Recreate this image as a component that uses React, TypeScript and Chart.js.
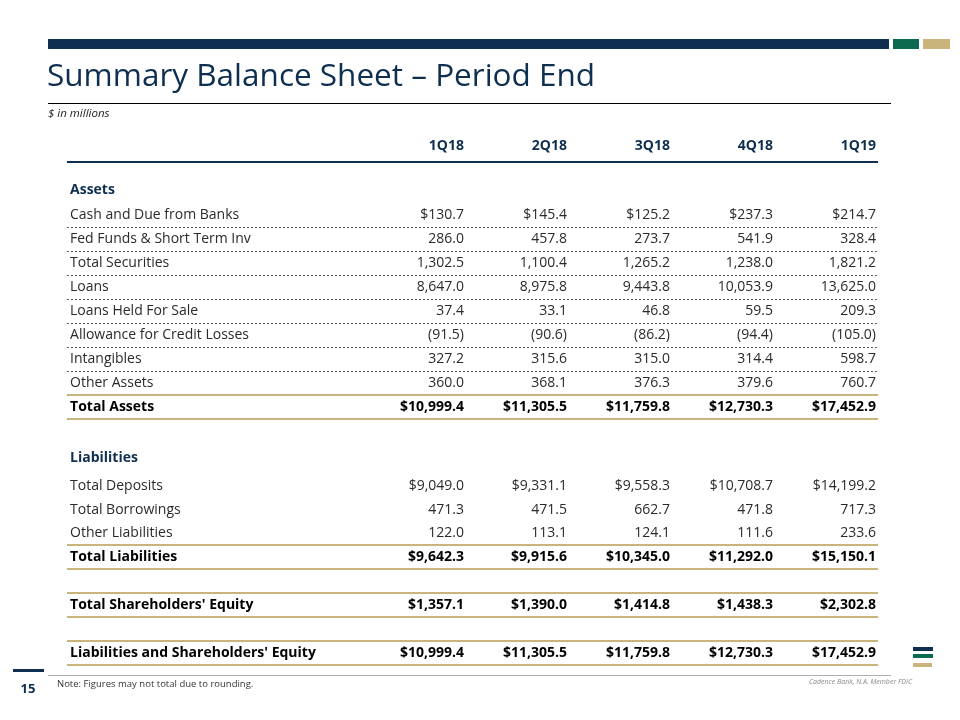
import React, { useEffect, useRef } from "react";
import { Chart, registerables } from "chart.js";

Chart.register(...registerables);

// ---------- data ----------
const quarters = ["1Q18", "2Q18", "3Q18", "4Q18", "1Q19"];

const assetItems = [
  "Cash and Due from Banks",
  "Fed Funds & Short Term Inv",
  "Total Securities",
  "Loans",
  "Loans Held For Sale",
  "Allowance for Credit Losses",
  "Intangibles",
  "Other Assets",
];
const totalAssetsLabel = "Total Assets";
const liabilityItems = ["Total Deposits", "Total Borrowings", "Other Liabilities"];
const totalLiabilitiesLabel = "Total Liabilities";
const equityLabel = "Total Shareholders' Equity";
const grandTotalLabel = "Liabilities and Shareholders' Equity";

// each quarter: 8 asset items, total assets, 3 liability items, total liabilities, equity, L&SE
const values1Q18 = [130.7, 286.0, 1302.5, 8647.0, 37.4, -91.5, 327.2, 360.0, 10999.4, 9049.0, 471.3, 122.0, 9642.3, 1357.1, 10999.4];
const values2Q18 = [145.4, 457.8, 1100.4, 8975.8, 33.1, -90.6, 315.6, 368.1, 11305.5, 9331.1, 471.5, 113.1, 9915.6, 1390.0, 11305.5];
const values3Q18 = [125.2, 273.7, 1265.2, 9443.8, 46.8, -86.2, 315.0, 376.3, 11759.8, 9558.3, 662.7, 124.1, 10345.0, 1414.8, 11759.8];
const values4Q18 = [237.3, 541.9, 1238.0, 10053.9, 59.5, -94.4, 314.4, 379.6, 12730.3, 10708.7, 471.8, 111.6, 11292.0, 1438.3, 12730.3];
const values1Q19 = [214.7, 328.4, 1821.2, 13625.0, 209.3, -105.0, 598.7, 760.7, 17452.9, 14199.2, 717.3, 233.6, 15150.1, 2302.8, 17452.9];

const seriesValues = [values1Q18, values2Q18, values3Q18, values4Q18, values1Q19];

const sectionLabels = ["Assets", "Liabilities"];

// ---------- layout (row slots on the y scale) ----------
const rowLabels = [...assetItems, totalAssetsLabel, ...liabilityItems, totalLiabilitiesLabel, equityLabel, grandTotalLabel];
const rowSlots = [2.9, 3.9, 4.9, 5.9, 6.9, 7.9, 8.9, 9.9, 10.9, 14.2, 15.2, 16.15, 17.15, 19.15, 21.15];
const rowBold = [false, false, false, false, false, false, false, false, true, false, false, false, true, true, true];
const rowDollar = [true, false, false, false, false, false, false, false, true, true, false, false, true, true, true];
const sectionSlots = [1.87, 13.05];
const labelCol = -3.825;

const FONT = '"Open Sans", "Noto Sans", sans-serif';
const NAVY = "#0e2f4f";
const GREEN = "#0b6a4f";
const GOLD = "#c9b47c";

function fmt(v: number, dollar: boolean): string {
  const s = Math.abs(v).toLocaleString("en-US", { minimumFractionDigits: 1, maximumFractionDigits: 1 });
  const body = (dollar ? "$" : "") + s;
  return v < 0 ? `(${body})` : body;
}

const tablePlugin = {
  id: "tablePlugin",
  afterDraw(chart: any) {
    const ctx: CanvasRenderingContext2D = chart.ctx;
    const xs = chart.scales.x;
    const ys = chart.scales.y;
    ctx.save();

    // slide decoration
    ctx.fillStyle = NAVY;
    ctx.fillRect(48, 39, 841, 10);
    ctx.fillStyle = GREEN;
    ctx.fillRect(893, 39, 26, 10);
    ctx.fillStyle = GOLD;
    ctx.fillRect(923, 39, 27, 10);

    ctx.fillStyle = NAVY;
    ctx.font = `31.5px ${FONT}`;
    ctx.textAlign = "left";
    ctx.textBaseline = "alphabetic";
    ctx.fillText("Summary Balance Sheet \u2013 Period End", 47, 86);

    ctx.fillStyle = "#000";
    ctx.fillRect(48, 103, 843, 1);

    ctx.fillStyle = "#222";
    ctx.font = `italic 11.5px ${FONT}`;
    ctx.fillText("$ in millions", 48, 117);

    // footer
    ctx.fillStyle = "#b0b0b0";
    ctx.fillRect(48, 675, 843, 1);
    ctx.fillStyle = NAVY;
    ctx.fillRect(13, 669, 31, 3);
    ctx.font = `bold 13px ${FONT}`;
    ctx.textAlign = "center";
    ctx.fillText("15", 28, 693);
    ctx.textAlign = "left";
    ctx.fillStyle = "#333";
    ctx.font = `9.5px ${FONT}`;
    ctx.fillText("Note: Figures may not total due to rounding.", 57, 687);
    ctx.fillStyle = "#8a8a8a";
    ctx.font = `italic 7px ${FONT}`;
    ctx.textAlign = "right";
    ctx.fillText("Cadence Bank, N.A. Member FDIC", 912, 684);
    // logo
    ctx.fillStyle = NAVY;
    ctx.fillRect(913, 647, 20, 4);
    ctx.fillStyle = GREEN;
    ctx.fillRect(913, 654, 20, 4);
    ctx.fillStyle = GOLD;
    ctx.fillRect(913, 663, 19, 4);

    // table rules
    const left = xs.getPixelForValue(labelCol - 0.03);
    const right = xs.getPixelForValue(4.02);
    ctx.fillStyle = NAVY;
    ctx.fillRect(left, Math.round(ys.getPixelForValue(0.7)) - 1, right - left, 2);

    // dotted lines between asset items
    ctx.strokeStyle = "#555";
    ctx.lineWidth = 1;
    ctx.setLineDash([2, 2]);
    for (let i = 0; i < assetItems.length - 1; i++) {
      const y = Math.round(ys.getPixelForValue(rowSlots[i] + 0.52)) + 0.5;
      ctx.beginPath();
      ctx.moveTo(left, y);
      ctx.lineTo(right, y);
      ctx.stroke();
    }
    ctx.setLineDash([]);

    // gold rules around totals
    ctx.fillStyle = GOLD;
    rowLabels.forEach((_, i) => {
      if (!rowBold[i]) return;
      const yTop = Math.round(ys.getPixelForValue(rowSlots[i] - 0.5));
      const yBot = Math.round(ys.getPixelForValue(rowSlots[i] + 0.52));
      ctx.fillRect(left, yTop - 1, right - left, 2);
      ctx.fillRect(left, yBot - 1, right - left, 2);
    });

    // header
    ctx.textBaseline = "middle";
    ctx.textAlign = "right";
    ctx.fillStyle = NAVY;
    ctx.font = `bold 14px ${FONT}`;
    quarters.forEach((q, qi) => {
      ctx.fillText(q, xs.getPixelForValue(qi), ys.getPixelForValue(0.05));
    });

    // section labels
    ctx.textAlign = "left";
    sectionLabels.forEach((s, si) => {
      ctx.fillText(s, xs.getPixelForValue(labelCol), ys.getPixelForValue(sectionSlots[si]));
    });

    // row labels (label dataset)
    const labelMeta = chart.getDatasetMeta(quarters.length);
    labelMeta.data.forEach((el: any, i: number) => {
      ctx.fillStyle = rowBold[i] ? "#000" : "#2a2a2a";
      ctx.font = `${rowBold[i] ? "bold " : ""}14px ${FONT}`;
      ctx.fillText(rowLabels[i], el.x, el.y);
    });

    // values
    ctx.textAlign = "right";
    quarters.forEach((_, qi) => {
      const meta = chart.getDatasetMeta(qi);
      meta.data.forEach((el: any, i: number) => {
        ctx.fillStyle = rowBold[i] ? "#000" : "#2a2a2a";
        ctx.font = `${rowBold[i] ? "bold " : ""}14px ${FONT}`;
        ctx.fillText(fmt(seriesValues[qi][i], rowDollar[i]), el.x, el.y);
      });
    });

    ctx.restore();
  },
};

export default function App() {
  const ref = useRef<HTMLCanvasElement | null>(null);
  useEffect(() => {
    if (!ref.current) return;
    const datasets: any[] = quarters.map((q, qi) => ({
      label: q,
      data: seriesValues[qi].map((_, i) => ({ x: qi, y: rowSlots[i] })),
      pointRadius: 0,
      showLine: false,
    }));
    datasets.push({
      label: "labels",
      data: rowLabels.map((_, i) => ({ x: labelCol, y: rowSlots[i] })),
      pointRadius: 0,
      showLine: false,
    });
    const chart = new Chart(ref.current, {
      type: "scatter",
      data: { datasets },
      plugins: [tablePlugin],
      options: {
        animation: false,
        responsive: false,
        devicePixelRatio: 1,
        events: [],
        layout: { padding: { left: 52, right: 84, top: 121, bottom: 23 } },
        plugins: { legend: { display: false }, tooltip: { enabled: false }, title: { display: false } },
        scales: {
          x: { type: "linear", min: -4, max: 4, display: false },
          y: { type: "linear", min: -1, max: 23, reverse: true, display: false },
        },
      },
    });
    return () => chart.destroy();
  }, []);
  return (
    <div style={{ position: "absolute", left: 0, top: 0, width: 960, height: 720, background: "#fff" }}>
      <canvas ref={ref} width={960} height={720} style={{ display: "block" }} />
    </div>
  );
}
